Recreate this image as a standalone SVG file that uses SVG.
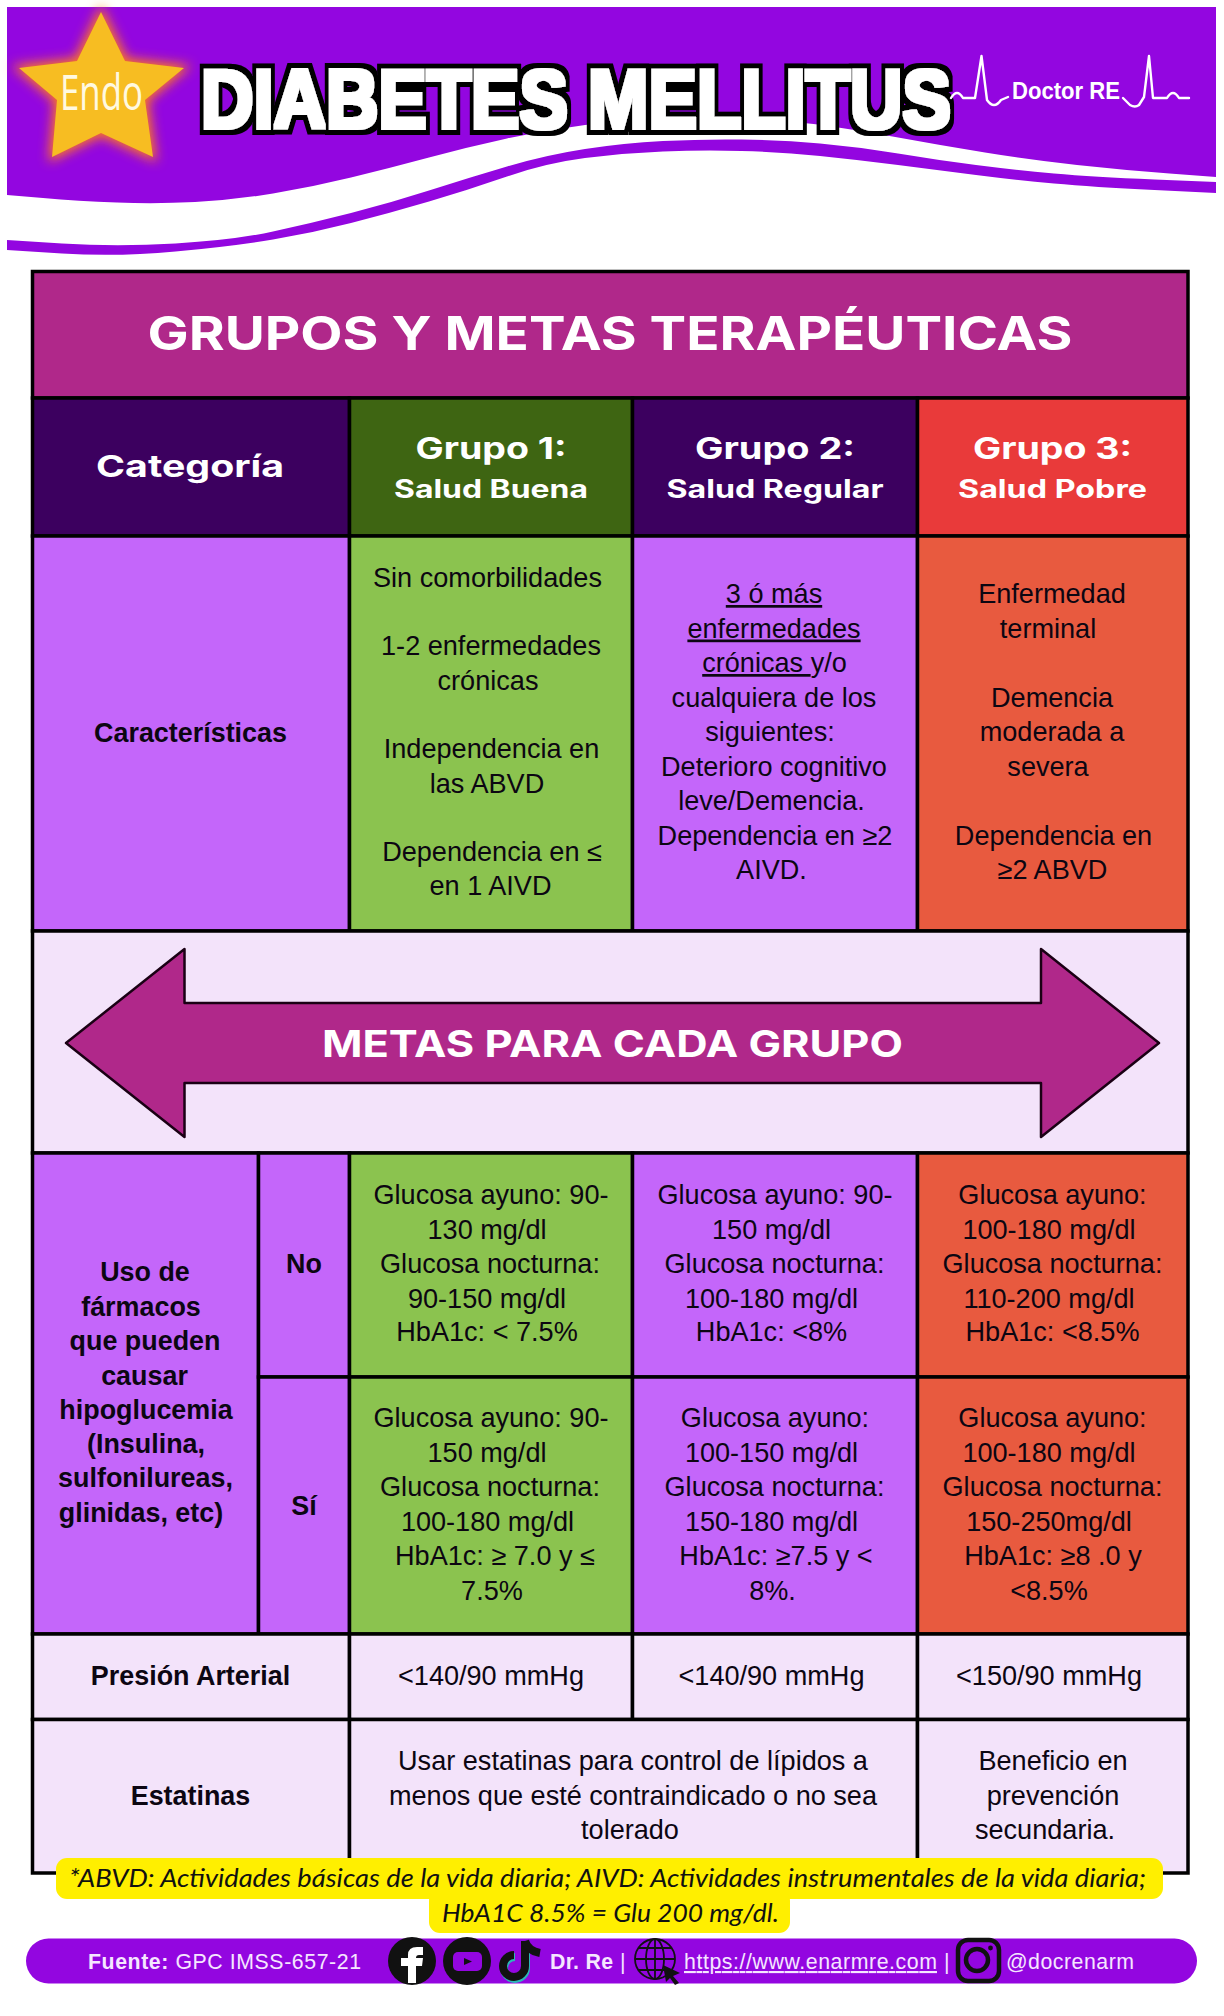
<svg xmlns="http://www.w3.org/2000/svg" width="1224" height="2016" viewBox="0 0 1224 2016">
<defs>
<style>
.b{font-family:"Liberation Sans",Arial,sans-serif;font-size:27.1px;fill:#0c0612;text-anchor:middle}
.bb{font-weight:700;font-size:26.9px}
.h{font-family:"Inter","Open Sans",sans-serif;font-weight:700;fill:#fff;text-anchor:middle}
.f{font-family:"Liberation Sans",Arial,sans-serif;font-size:21.3px;fill:#f6e6ff}
.n{font-family:"Lato","Open Sans",sans-serif;font-style:italic;font-size:25px;fill:#111;text-anchor:middle}
.cell{stroke:#000;stroke-width:3.5}
.ecg{fill:none;stroke:#fff;stroke-width:2.4;stroke-linejoin:round;stroke-linecap:round}
</style>
<filter id="glow" x="-30%" y="-30%" width="160%" height="160%"><feGaussianBlur stdDeviation="6"/></filter>
<filter id="outline" x="-5%" y="-20%" width="110%" height="140%">
<feMorphology in="SourceAlpha" operator="dilate" radius="6.5" result="o"/>
<feFlood flood-color="#000"/><feComposite in2="o" operator="in" result="blk"/>
<feMorphology in="SourceGraphic" operator="dilate" radius="2" result="w"/>
<feMerge><feMergeNode in="blk"/><feMergeNode in="w"/></feMerge>
</filter>
</defs>

<g id="banner">
<path d="M7 240 L62 243.5 Q117 247 175.5 243.5 Q234 240 273 231.5 Q312 223 351 213 Q390 203 429 190.5 Q468 178 507 166.5 Q546 155 585 149 Q624 143 663 141 Q702 139 741.5 139.5 Q781 140 820 143.5 Q859 147 898 153.5 Q937 160 976 165 Q1015 170 1054 173.5 Q1093 177 1154.5 179.5 L1216 182 V193 L1154.5 190 Q1093 187 1054 183.5 Q1015 180 976 175 Q937 170 898 165 Q859 160 820 156 Q781 152 741.5 151 Q702 150 663 151.5 Q624 153 585 158 Q546 163 507 176.5 Q468 190 429 201.5 Q390 213 351 223 Q312 233 273 239.5 Q234 246 175.5 251.5 Q117 257 62 253.5 L7 250 Z" fill="#9306E0"/>
<path d="M7 7 H1216 V177 L1169.5 173.5 Q1123 170 1077 165 Q1031 160 985 152.5 Q939 145 892.5 136.5 Q846 128 813.5 124 Q781 120 741.5 119 Q702 118 663 119 Q624 120 585 125 Q546 130 507 138.5 Q468 147 429 157.5 Q390 168 351 177.5 Q312 187 273 193.5 Q234 200 195 202 Q156 204 117 202.5 Q78 201 43 198 L7 195 Z" fill="#9306E0"/>
</g>

<g id="star">
<polygon points="101,12 125,61 184,68 145,100 153,157 101,133 52,157 57,100 19,68 77,61" fill="#FF7A1A" stroke="#FF7A1A" stroke-width="6" filter="url(#glow)"/>
<polygon points="101,12 125,61 184,68 145,100 153,157 101,133 52,157 57,100 19,68 77,61" fill="#F7BD22"/>
<text x="101.5" y="110" text-anchor="middle" font-family="'Open Sans',sans-serif" font-size="50" fill="#fff9e0" textLength="83" lengthAdjust="spacingAndGlyphs">Endo</text>
</g>

<g id="title">
<text transform="translate(201 128) scale(.864 1)" font-family="'Liberation Sans',Arial,sans-serif" font-weight="700" font-size="84" fill="#fff" filter="url(#outline)">DIABETES MELLITUS</text>
</g>

<g id="logo">
<path class="ecg" d="M951 98 Q957 88 963 98 H975 L981.5 56 L987 100 Q994 110 1001 100 L1008 97"/>
<text x="1012" y="99" font-family="'Liberation Sans',sans-serif" font-weight="700" font-size="23" fill="#fff" textLength="108" lengthAdjust="spacingAndGlyphs">Doctor RE</text>
<path class="ecg" d="M1123 98 L1130 105 Q1135 108 1139 105 L1144 97 L1149 56 L1153 98 H1167 Q1173 88 1179 98 H1189"/>
</g>

<g id="title-row"><rect class="cell" x="32.5" y="271.5" width="1155.5" height="126.5" fill="#B0288A"/>
<text class="h" x="610" y="350" font-size="47" textLength="925" lengthAdjust="spacingAndGlyphs">GRUPOS Y METAS TERAPÉUTICAS</text></g>

<g id="h-categoria"><rect class="cell" x="32.5" y="398" width="317" height="138" fill="#3C005F"/>
<text class="h" x="190" y="477" font-size="30" textLength="188" lengthAdjust="spacingAndGlyphs">Categoría</text></g>
<g id="h-grupo1"><rect class="cell" x="349.5" y="398" width="283" height="138" fill="#3E6512"/>
<text class="h" x="491" y="459" font-size="30" textLength="151" lengthAdjust="spacingAndGlyphs">Grupo 1:</text>
<text class="h" x="491" y="498" font-size="25" textLength="194" lengthAdjust="spacingAndGlyphs">Salud Buena</text></g>
<g id="h-grupo2"><rect class="cell" x="632.5" y="398" width="285" height="138" fill="#3C005F"/>
<text class="h" x="775" y="459" font-size="30" textLength="160" lengthAdjust="spacingAndGlyphs">Grupo 2:</text>
<text class="h" x="775" y="498" font-size="25" textLength="217" lengthAdjust="spacingAndGlyphs">Salud Regular</text></g>
<g id="h-grupo3"><rect class="cell" x="917.5" y="398" width="270.5" height="138" fill="#E93A3A"/>
<text class="h" x="1052.5" y="459" font-size="30" textLength="159" lengthAdjust="spacingAndGlyphs">Grupo 3:</text>
<text class="h" x="1052.5" y="498" font-size="25" textLength="189" lengthAdjust="spacingAndGlyphs">Salud Pobre</text></g>

<g id="c-caracteristicas"><rect class="cell" x="32.5" y="536" width="317" height="395" fill="#C466FA"/>
<text class="b bb" x="190.5" y="742">Características</text></g>
<g id="c-grupo1"><rect class="cell" x="349.5" y="536" width="283" height="395" fill="#8BC34F"/>
<text class="b" x="487.5" y="586.5">Sin comorbilidades</text>
<text class="b" x="491" y="655">1-2 enfermedades</text>
<text class="b" x="488" y="689.5">crónicas</text>
<text class="b" x="491.5" y="758">Independencia en</text>
<text class="b" x="487" y="792.5">las ABVD</text>
<text class="b" x="492" y="861">Dependencia en ≤</text>
<text class="b" x="490.5" y="895">en 1 AIVD</text></g>
<g id="c-grupo2"><rect class="cell" x="632.5" y="536" width="285" height="395" fill="#C466FA"/>
<text class="b" x="774" y="603" text-decoration="underline">3 ó más</text>
<text class="b" x="774" y="637.5" text-decoration="underline">enfermedades</text>
<text class="b" x="774.5" y="672" style="white-space:pre"><tspan text-decoration="underline">crónicas </tspan>y/o</text>
<text class="b" x="774" y="706.5">cualquiera de los</text>
<text class="b" x="770" y="741">siguientes:</text>
<text class="b" x="774" y="775.5">Deterioro cognitivo</text>
<text class="b" x="771.5" y="810">leve/Demencia.</text>
<text class="b" x="775" y="844.5">Dependencia en ≥2</text>
<text class="b" x="771.5" y="879">AIVD.</text></g>
<g id="c-grupo3"><rect class="cell" x="917.5" y="536" width="270.5" height="395" fill="#E85A3F"/>
<text class="b" x="1052" y="603">Enfermedad</text>
<text class="b" x="1048" y="637.5">terminal</text>
<text class="b" x="1052" y="706.5">Demencia</text>
<text class="b" x="1052" y="741">moderada a</text>
<text class="b" x="1048" y="775.5">severa</text>
<text class="b" x="1053.5" y="844.5">Dependencia en</text>
<text class="b" x="1052.5" y="879">≥2 ABVD</text></g>

<g id="metas"><rect class="cell" x="32.5" y="931" width="1155.5" height="222" fill="#F3E3FA"/>
<polygon points="66,1043 184.5,949 184.5,1003 1041,1003 1041,949 1159,1043 1041,1137 1041,1083 184.5,1083 184.5,1137" fill="#B0288A" stroke="#1a0014" stroke-width="2.5" stroke-linejoin="round"/>
<text class="h" x="612.5" y="1057" font-size="37" textLength="581" lengthAdjust="spacingAndGlyphs">METAS PARA CADA GRUPO</text></g>

<g id="c-farmacos"><rect class="cell" x="32.5" y="1153" width="226" height="481" fill="#C466FA"/>
<text class="b bb" x="145" y="1281">Uso de</text>
<text class="b bb" x="141" y="1315.5">fármacos</text>
<text class="b bb" x="145" y="1350">que pueden</text>
<text class="b bb" x="144.5" y="1384.5">causar</text>
<text class="b bb" x="146" y="1418.5">hipoglucemia</text>
<text class="b bb" x="146" y="1452.5">(Insulina,</text>
<text class="b bb" x="145.5" y="1487">sulfonilureas,</text>
<text class="b bb" x="141" y="1521.5">glinidas, etc)</text></g>
<g id="c-no"><rect class="cell" x="258.5" y="1153" width="91" height="224" fill="#C466FA"/>
<text class="b bb" x="304" y="1272.5">No</text></g>
<g id="c-si"><rect class="cell" x="258.5" y="1377" width="91" height="257" fill="#C466FA"/>
<text class="b bb" x="304" y="1514.5">Sí</text></g>

<g id="no-grupo1"><rect class="cell" x="349.5" y="1153" width="283" height="224" fill="#8BC34F"/>
<text class="b" x="491" y="1204">Glucosa ayuno: 90-</text>
<text class="b" x="487" y="1238.5">130 mg/dl</text>
<text class="b" x="490" y="1273">Glucosa nocturna:</text>
<text class="b" x="487" y="1307.5">90-150 mg/dl</text>
<text class="b" x="487" y="1341">HbA1c: &lt; 7.5%</text></g>
<g id="no-grupo2"><rect class="cell" x="632.5" y="1153" width="285" height="224" fill="#C466FA"/>
<text class="b" x="775" y="1204">Glucosa ayuno: 90-</text>
<text class="b" x="771.5" y="1238.5">150 mg/dl</text>
<text class="b" x="774.5" y="1273">Glucosa nocturna:</text>
<text class="b" x="771.5" y="1307.5">100-180 mg/dl</text>
<text class="b" x="771.5" y="1341">HbA1c: &lt;8%</text></g>
<g id="no-grupo3"><rect class="cell" x="917.5" y="1153" width="270.5" height="224" fill="#E85A3F"/>
<text class="b" x="1052.5" y="1204">Glucosa ayuno:</text>
<text class="b" x="1049" y="1238.5">100-180 mg/dl</text>
<text class="b" x="1052.5" y="1273">Glucosa nocturna:</text>
<text class="b" x="1049" y="1307.5">110-200 mg/dl</text>
<text class="b" x="1052.5" y="1341">HbA1c: &lt;8.5%</text></g>

<g id="si-grupo1"><rect class="cell" x="349.5" y="1377" width="283" height="257" fill="#8BC34F"/>
<text class="b" x="491" y="1427">Glucosa ayuno: 90-</text>
<text class="b" x="487" y="1461.5">150 mg/dl</text>
<text class="b" x="490" y="1496">Glucosa nocturna:</text>
<text class="b" x="487.5" y="1530.5">100-180 mg/dl</text>
<text class="b" x="495" y="1565">HbA1c: ≥ 7.0 y ≤</text>
<text class="b" x="492" y="1599.5">7.5%</text></g>
<g id="si-grupo2"><rect class="cell" x="632.5" y="1377" width="285" height="257" fill="#C466FA"/>
<text class="b" x="775" y="1427">Glucosa ayuno:</text>
<text class="b" x="771.5" y="1461.5">100-150 mg/dl</text>
<text class="b" x="774.5" y="1496">Glucosa nocturna:</text>
<text class="b" x="771.5" y="1530.5">150-180 mg/dl</text>
<text class="b" x="776" y="1565">HbA1c: ≥7.5 y &lt;</text>
<text class="b" x="772.5" y="1599.5">8%.</text></g>
<g id="si-grupo3"><rect class="cell" x="917.5" y="1377" width="270.5" height="257" fill="#E85A3F"/>
<text class="b" x="1052.5" y="1427">Glucosa ayuno:</text>
<text class="b" x="1049" y="1461.5">100-180 mg/dl</text>
<text class="b" x="1052.5" y="1496">Glucosa nocturna:</text>
<text class="b" x="1049" y="1530.5">150-250mg/dl</text>
<text class="b" x="1053" y="1565">HbA1c: ≥8 .0 y</text>
<text class="b" x="1049" y="1599.5">&lt;8.5%</text></g>

<g id="r-presion"><rect class="cell" x="32.5" y="1634" width="317" height="85.5" fill="#F3E3FA"/>
<text class="b bb" x="190.5" y="1685">Presión Arterial</text>
<rect class="cell" x="349.5" y="1634" width="283" height="85.5" fill="#F3E3FA"/>
<text class="b" x="491" y="1685">&lt;140/90 mmHg</text>
<rect class="cell" x="632.5" y="1634" width="285" height="85.5" fill="#F3E3FA"/>
<text class="b" x="771.5" y="1685">&lt;140/90 mmHg</text>
<rect class="cell" x="917.5" y="1634" width="270.5" height="85.5" fill="#F3E3FA"/>
<text class="b" x="1049" y="1685">&lt;150/90 mmHg</text></g>

<g id="r-estatinas"><rect class="cell" x="32.5" y="1719.5" width="317" height="153.5" fill="#F3E3FA"/>
<text class="b bb" x="190.5" y="1804.5">Estatinas</text>
<rect class="cell" x="349.5" y="1719.5" width="568" height="153.5" fill="#F3E3FA"/>
<text class="b" x="633" y="1770">Usar estatinas para control de lípidos a</text>
<text class="b" x="633" y="1804.5">menos que esté contraindicado o no sea</text>
<text class="b" x="630" y="1839">tolerado</text>
<rect class="cell" x="917.5" y="1719.5" width="270.5" height="153.5" fill="#F3E3FA"/>
<text class="b" x="1053" y="1770">Beneficio en</text>
<text class="b" x="1053" y="1804.5">prevención</text>
<text class="b" x="1045" y="1839">secundaria.</text></g>

<g id="nota">
<rect x="56" y="1858" width="1107" height="41" rx="11" fill="#FFEF00"/>
<rect x="429" y="1890" width="361" height="43" rx="11" fill="#FFEF00"/>
<text class="n" x="607.5" y="1887" textLength="1077" lengthAdjust="spacingAndGlyphs">*ABVD: Actividades básicas de la vida diaria; AIVD: Actividades instrumentales de la vida diaria;</text>
<text class="n" x="610.5" y="1922" textLength="337" lengthAdjust="spacingAndGlyphs">HbA1C 8.5% = Glu 200 mg/dl.</text>
</g>

<g id="footer">
<rect x="26" y="1938.5" width="1171" height="45" rx="22.5" fill="#9306E0"/>
<text class="f" x="88" y="1969" textLength="273"><tspan font-weight="700">Fuente:</tspan> GPC IMSS-657-21</text>
<circle cx="412" cy="1961" r="24" fill="#111"/>
<path d="M408 1983 V1966 H401 V1958 H408 V1955 Q408 1947 417 1947 H423 V1955 H419 Q416 1955 416 1958 H423 L422 1966 H416 V1983 Z" fill="#fff"/>
<circle cx="467" cy="1961" r="24" fill="#111"/>
<rect x="453" y="1952" width="29" height="19" rx="5" fill="#9306E0"/>
<polygon points="464,1958 472,1961.5 464,1965" fill="#111"/>
<path d="M525 1943 V1967 A11 11 0 1 1 514 1956" fill="none" stroke="#2bb8b8" stroke-width="8" transform="translate(1 1)"/>
<path d="M525 1941 V1966 A11 11 0 1 1 514 1955" fill="none" stroke="#111" stroke-width="8"/>
<path d="M525 1941 Q528 1951 540 1953" fill="none" stroke="#111" stroke-width="8"/>
<text class="f" x="550" y="1969" font-weight="700" textLength="63">Dr. Re</text>
<text class="f" x="620" y="1969">|</text>
<g fill="none" stroke="#111" stroke-width="1.8">
<circle cx="655" cy="1959" r="20"/><ellipse cx="655" cy="1959" rx="9" ry="20"/>
<path d="M655 1939 V1979 M635 1959 H675 M638 1948 H672 M638 1970 H672"/>
</g>
<polygon points="663,1965 680,1973 673,1976 679,1983 675,1985 670,1978 666,1982" fill="#111"/>
<text class="f" x="684" y="1969" text-decoration="underline" textLength="253">https://www.enarmre.com</text>
<text class="f" x="944" y="1969">|</text>
<rect x="958" y="1940" width="41" height="41" rx="10" fill="none" stroke="#111" stroke-width="4.5"/>
<circle cx="977" cy="1960" r="11" fill="none" stroke="#111" stroke-width="4.5"/>
<circle cx="990.5" cy="1948" r="2.4" fill="#111"/>
<text class="f" x="1006" y="1969" textLength="128">@docrenarm</text>
</g>
</svg>
